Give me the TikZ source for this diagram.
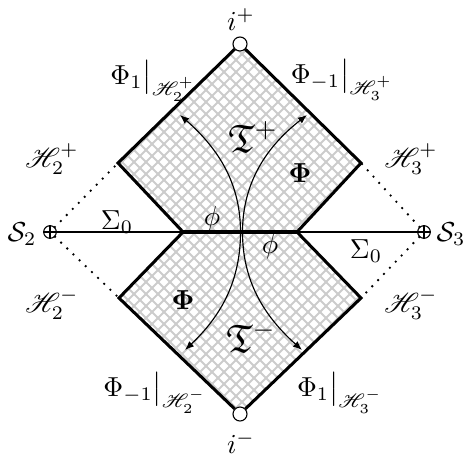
\documentclass[tikz,border=0pt]{standalone}
\usepackage{amsmath,amssymb,mathrsfs}
\usetikzlibrary{arrows.meta}
\begin{document}
\begin{tikzpicture}[x=0.364pt,y=-0.364pt,
  gridline/.style={draw=black!20,line width=0.7pt},
  thickline/.style={line width=1.1pt,line join=miter},
  thinline/.style={line width=0.45pt},
  dotline/.style={line width=0.95pt,line cap=round,dash pattern=on 0pt off 3.1pt},
  flow/.style={line width=0.42pt,{Latex[length=3.3pt,width=2.6pt]}-{Latex[length=3.3pt,width=2.6pt]}},
  lbl/.style={inner sep=0pt},
  endpt/.style={circle,draw,fill=white,line width=0.4pt,inner sep=0pt,minimum size=5.1pt},
  srcpt/.style={circle,draw,line width=0.4pt,inner sep=0pt,minimum size=4.6pt}]
\useasboundingbox (0,0) rectangle (464,459);
% corner coordinates
\coordinate (UL) at (118,163);
\coordinate (UR) at (361,163);
\coordinate (LL) at (119,298);
\coordinate (LR) at (361,298);
\coordinate (IL) at (183,232);
\coordinate (IR) at (297,232);
\coordinate (T) at (240,44);
\coordinate (B) at (240,414);
% hatch
\begin{scope}
\clip (T) -- (UL) -- (IL) -- (LL) -- (B) -- (LR) -- (IR) -- (UR) -- cycle;
\foreach \c in {-316,-304,...,800} {
  \draw[gridline] (\c,0) -- ++(460,460);
  \draw[gridline] (\c,0) -- ++(-460,460);
}
\end{scope}
% source points
\node[srcpt] (S2) at (50,232) {};
\node[srcpt] (S3) at (424,232) {};
\draw[line width=0.4pt] (S2.north) -- (S2.south) (S2.west) -- (S2.east);
\draw[line width=0.4pt] (S3.north) -- (S3.south) (S3.west) -- (S3.east);
% endpoints
\node[endpt] (ip) at (T) {};
\node[endpt] (im) at (B) {};
% horizontal slice
\draw[thinline] (S2) -- (S3);
\draw[thickline] (IL) -- (IR);
% dotted horizons
\draw[dotline] (S2) -- (UL);
\draw[dotline] (S2) -- (LL);
\draw[dotline] (S3) -- (UR);
\draw[dotline] (S3) -- (LR);
% thick outlines
\draw[thickline] (ip) -- (UL) -- (IL);
\draw[thickline] (ip) -- (UR) -- (IR);
\draw[thickline] (im) -- (LL) -- (IL);
\draw[thickline] (im) -- (LR) -- (IR);
% flow curves
\coordinate (a1) at (180,115);
\coordinate (a2) at (185,350);
\coordinate (b1) at (307,115);
\coordinate (b2) at (302,350);
\coordinate (c1) at (240.5,232);
\coordinate (c2) at (242.5,232);
\draw[flow] (a1) .. controls (220,150) and (240.5,185) .. (c1) .. controls (240.5,280) and (222,315) .. (a2);
\draw[flow] (b1) .. controls (262,150) and (242.5,188) .. (c2) .. controls (242.5,280) and (263,315) .. (b2);
% labels
\node[lbl] (lip) at (241,20) {$i^{+}$};
\node[lbl] (lim) at (241,443) {$i^{-}$};
\node[lbl] (l1) at (153,81) {$\Phi_1\big|_{\mathscr{H}_2^+}$};
\node[lbl] (l2) at (342,80) {$\Phi_{-1}\big|_{\mathscr{H}_3^+}$};
\node[lbl] (l3) at (155,393) {$\Phi_{-1}\big|_{\mathscr{H}_2^-}$};
\node[lbl] (l4) at (340,393) {$\Phi_1\big|_{\mathscr{H}_3^-}$};
\node[lbl] (h2p) at (52,159) {$\mathscr{H}_2^+$};
\node[lbl] (h3p) at (411,159) {$\mathscr{H}_3^+$};
\node[lbl] (h2m) at (52,304) {$\mathscr{H}_2^-$};
\node[lbl] (h3m) at (411,304) {$\mathscr{H}_3^-$};
\node[lbl] (ls2) at (22,234) {$\mathcal{S}_2$};
\node[lbl,anchor=west] (ls3) at (436,234) {$\mathcal{S}_3$};
\node[lbl] (sig1) at (117,222) {$\Sigma_0$};
\node[lbl] (sig2) at (366,251) {$\Sigma_0$};
\node[lbl] (ph1) at (212,219) {$\phi$};
\node[lbl] (ph2) at (270,247) {$\phi$};
\node[lbl,font=\Large] (Tp) at (253,137) {$\mathfrak{T}^{+}$};
\node[lbl,font=\Large] (Tm) at (251,337) {$\mathfrak{T}^{-}$};
\node[lbl] (Pr) at (300,173) {$\mathbf{\Phi}$};
\node[lbl] (Pl) at (183,300) {$\mathbf{\Phi}$};
\end{tikzpicture}
\end{document}
